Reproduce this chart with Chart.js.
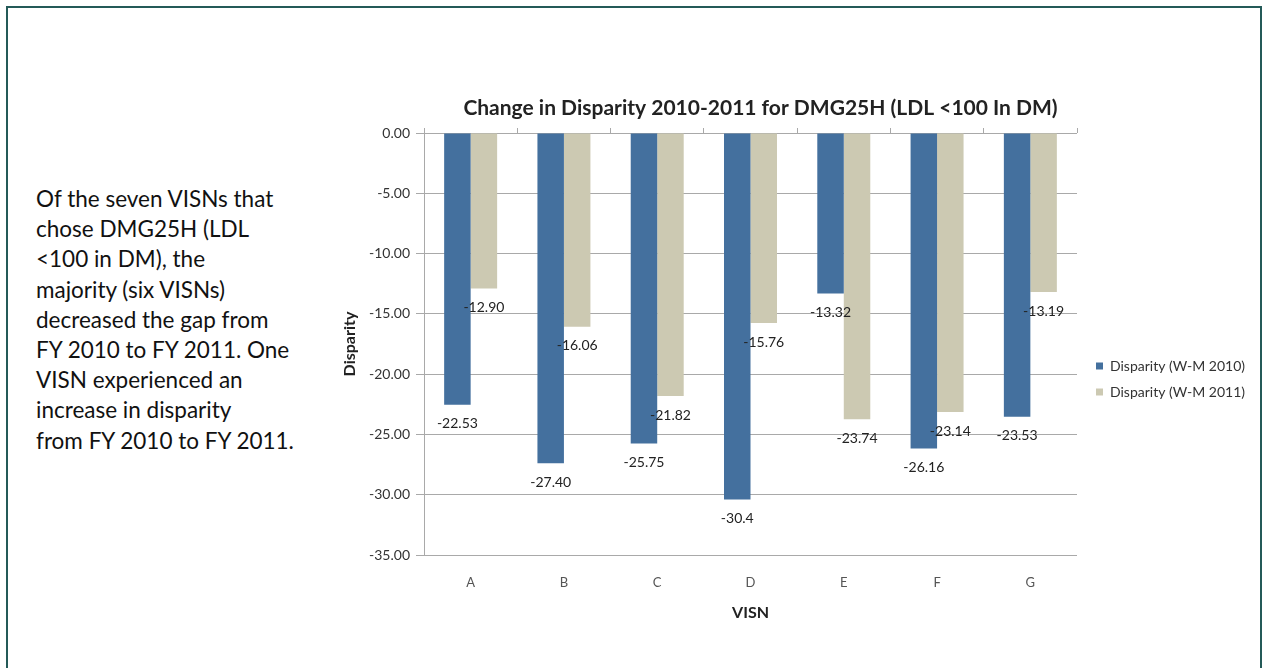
<!DOCTYPE html>
<html>
<head>
<meta charset="utf-8">
<script src="https://cdn.jsdelivr.net/npm/chart.js@4.4.1/dist/chart.umd.min.js"></script>
<style>
  html, body { margin: 0; padding: 0; background: #fff; overflow: hidden; }
  body { width: 1265px; height: 668px; position: relative; }
  .frame {
    position: absolute; left: 6px; top: 6px; width: 1252px; height: 720px;
    border: 2px solid #245a58; box-sizing: content-box;
  }
  .note {
    position: absolute; left: 36px; top: 184px;
    font-family: Lato, "Open Sans", sans-serif; font-size: 22.5px; line-height: 30.2px;
    color: #111; white-space: nowrap;
  }
  #wrap { position: absolute; left: 330px; top: 90px; width: 930px; height: 578px; }
</style>
</head>
<body>
<div class="frame"></div>
<div class="note">Of the seven VISNs that<br>chose DMG25H (LDL<br>&lt;100 in DM), the<br>majority (six VISNs)<br>decreased the gap from<br>FY 2010 to FY 2011. One<br>VISN experienced an<br>increase in disparity<br>from FY 2010 to FY 2011.</div>
<div id="wrap"><canvas id="c"></canvas></div>
<script>
// VISN categories and the W-M disparity per fiscal year (labels as printed on the bars)
const categories = ['A', 'B', 'C', 'D', 'E', 'F', 'G'];
const labels2010 = ['-22.53', '-27.40', '-25.75', '-30.4', '-13.32', '-26.16', '-23.53'];
const labels2011 = ['-12.90', '-16.06', '-21.82', '-15.76', '-23.74', '-23.14', '-13.19'];
const values2010 = labels2010.map(Number);
const values2011 = labels2011.map(Number);
const seriesNames = ['Disparity (W-M 2010)', 'Disparity (W-M 2011)'];
const yTicks = [0, -5, -10, -15, -20, -25, -30, -35];

const FONT = 'Lato, "Open Sans", sans-serif';
const GRID = '#a9a9a9';

// Writes each bar's printed value just below the end of the bar
const valueLabels = {
  id: 'valueLabels',
  afterDatasetsDraw(chart) {
    const ctx = chart.ctx;
    ctx.save();
    ctx.font = '14px ' + FONT;
    ctx.fillStyle = '#222';
    ctx.textAlign = 'center';
    ctx.textBaseline = 'middle';
    chart.data.datasets.forEach((ds, i) => {
      const meta = chart.getDatasetMeta(i);
      meta.data.forEach((bar, j) => {
        ctx.fillText(ds.valueText[j], bar.x, bar.y + 19);
      });
    });
    ctx.restore();
  }
};

// Gives the legend a fixed column width and nudges the legend and title sideways
const LEGEND_WIDTH = 183;
const LEGEND_SHIFT = 7;
const TITLE_SHIFT = 10;
const sideBoxes = {
  id: 'sideBoxes',
  beforeLayout(chart) {
    const lg = chart.legend;
    if (lg && !lg._fixedFit) {
      const fit = lg.fit.bind(lg);
      lg.fit = function () { fit(); this.width = LEGEND_WIDTH; };
      lg._fixedFit = true;
    }
  },
  afterLayout(chart) {
    const lg = chart.legend;
    if (lg) { lg.left += LEGEND_SHIFT; lg.right += LEGEND_SHIFT; }
    const tb = chart.titleBlock;
    if (tb) { tb.left += TITLE_SHIFT; tb.right += TITLE_SHIFT; }
  }
};

new Chart(document.getElementById('c'), {
  type: 'bar',
  data: {
    labels: categories,
    datasets: [
      { label: seriesNames[0], data: values2010, valueText: labels2010,
        backgroundColor: '#44709e', categoryPercentage: 0.568, barPercentage: 1.0 },
      { label: seriesNames[1], data: values2011, valueText: labels2011,
        backgroundColor: '#ccc9b2', categoryPercentage: 0.568, barPercentage: 1.0 }
    ]
  },
  options: {
    responsive: true,
    maintainAspectRatio: false,
    animation: false,
    layout: { padding: { left: 0, right: 0, top: 0, bottom: 0 } },
    scales: {
      x: {
        position: 'bottom',
        grid: { display: false, drawTicks: false },
        border: { display: false },
        ticks: { color: '#555', font: { family: FONT, size: 13 }, padding: 20 },
        title: { display: true, text: 'VISN', color: '#222',
                 font: { family: FONT, size: 16, weight: 'bold' }, padding: { top: 0, bottom: 45.5 } },
        afterFit(scale) { scale.height = 113; }
      },
      xTop: {
        type: 'category',
        labels: categories,
        position: 'top',
        offset: true,
        grid: { drawOnChartArea: false, drawTicks: true, tickLength: 5, color: GRID, offset: true },
        border: { display: false },
        ticks: { display: false }
      },
      y: {
        min: -35, max: 0,
        afterBuildTicks(scale) { scale.ticks = yTicks.map(v => ({ value: v })); },
        grid: { color: GRID, tickLength: 8, lineWidth: 1 },
        border: { display: true, color: GRID },
        ticks: { color: '#333', padding: 6, font: { family: FONT, size: 14 },
                 callback: v => v.toFixed(2) },
        title: { display: true, text: 'Disparity', color: '#222',
                 font: { family: FONT, size: 16, weight: 'bold' }, padding: { top: 10, bottom: 0 } },
        afterFit(scale) { scale.width = 94; }
      }
    },
    plugins: {
      title: {
        display: true, fullSize: false,
        text: 'Change in Disparity 2010-2011 for DMG25H (LDL <100 In DM)',
        color: '#222', font: { family: FONT, size: 21, weight: 'bold' },
        padding: { top: 5.4, bottom: 7.4 }
      },
      legend: {
        position: 'right',
        align: 'center',
        labels: { boxWidth: 7, boxHeight: 7, padding: 12, color: '#333',
                  font: { family: FONT, size: 14 } }
      },
      tooltip: { enabled: false }
    }
  },
  plugins: [valueLabels, sideBoxes]
});
</script>
</body>
</html>
